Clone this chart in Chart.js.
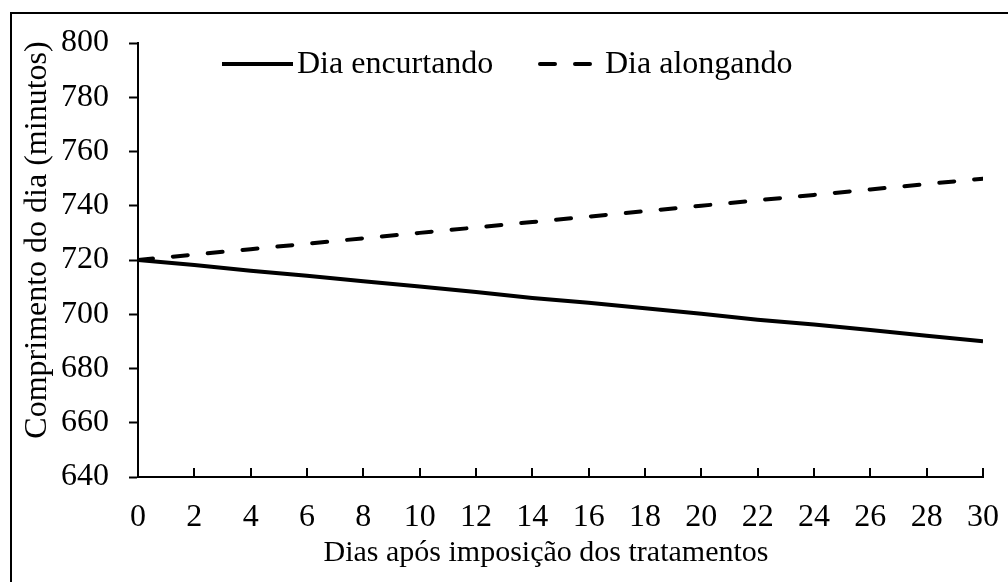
<!DOCTYPE html>
<html>
<head>
<meta charset="utf-8">
<script src="https://cdn.jsdelivr.net/npm/chart.js@4.4.1/dist/chart.umd.min.js"></script>
<style>
  html, body { margin: 0; padding: 0; background: #fff; }
  #wrap { position: relative; width: 1008px; height: 582px; }
</style>
</head>
<body>
<div id="wrap"><canvas id="grafico"></canvas></div>
<script>
// dados
var dias = [0, 2, 4, 6, 8, 10, 12, 14, 16, 18, 20, 22, 24, 26, 28, 30];
var diaEncurtando = [720, 718.2, 716, 714.2, 712.2, 710.2, 708.2, 706, 704.2, 702.2, 700.2, 698, 696.2, 694.2, 692.1, 690];
var diaAlongando = [720, 722, 724, 726, 728, 730, 732, 734, 736, 738, 740, 742, 744, 746, 748, 750];
var nomesSeries = ['Dia encurtando', 'Dia alongando'];
var tituloX = 'Dias após imposição dos tratamentos';
var tituloY = 'Comprimento do dia (minutos)';

var fonte = 'Liberation Serif, Times New Roman, serif';
var tam = 32;

function pontos(ys) {
  return dias.map(function (d, i) { return { x: d, y: ys[i] }; });
}

// moldura, ticks do eixo x para dentro, legenda e títulos
var extras = {
  id: 'extras',
  beforeDraw: function (chart) {
    var c = chart.ctx;
    c.save();
    c.strokeStyle = '#000';
    c.lineWidth = 2;
    c.strokeRect(11, 13, 1100, 700);
    c.restore();
  },
  afterDraw: function (chart) {
    var c = chart.ctx;
    var sx = chart.scales.x;
    var area = chart.chartArea;
    c.save();
    c.strokeStyle = '#000';
    c.lineWidth = 2;
    sx.ticks.forEach(function (t) {
      var px = Math.round(sx.getPixelForValue(t.value));
      c.beginPath();
      c.moveTo(px, area.bottom);
      c.lineTo(px, area.bottom - 9);
      c.stroke();
    });

    // legenda
    var leg = [[222, 293, 297], [540, 595, 605]];
    c.font = tam + 'px ' + fonte;
    c.textBaseline = 'middle';
    c.fillStyle = '#000';
    chart.data.datasets.forEach(function (ds, i) {
      var l = leg[i];
      c.beginPath();
      c.lineWidth = 4;
      c.lineCap = i === 0 ? 'butt' : 'round';
      c.setLineDash(ds.borderDash || []);
      c.moveTo(l[0], 64);
      c.lineTo(l[1], 64);
      c.stroke();
      c.setLineDash([]);
      c.fillText(ds.label, l[2], 65);
    });

    // títulos dos eixos
    c.textAlign = 'center';
    c.font = '30px ' + fonte;
    c.fillText(tituloX, 546, 553);
    c.font = tam + 'px ' + fonte;
    c.translate(38, 240);
    c.rotate(-Math.PI / 2);
    c.fillText(tituloY, 0, 0);
    c.restore();
  }
};

new Chart(document.getElementById('grafico'), {
  type: 'line',
  data: {
    datasets: [
      {
        label: nomesSeries[0],
        data: pontos(diaEncurtando),
        borderColor: '#000',
        borderWidth: 4,
        pointRadius: 0,
        tension: 0
      },
      {
        label: nomesSeries[1],
        data: pontos(diaAlongando),
        borderColor: '#000',
        borderWidth: 4,
        borderDash: [15, 20],
        borderCapStyle: 'round',
        pointRadius: 0,
        tension: 0
      }
    ]
  },
  options: {
    responsive: true,
    maintainAspectRatio: false,
    animation: false,
    layout: { padding: { left: 10, top: 43, right: 25, bottom: 0 } },
    plugins: {
      legend: { display: false },
      tooltip: { enabled: false }
    },
    scales: {
      x: {
        type: 'linear',
        min: 0,
        max: 30,
        afterFit: function (s) { s.height = 105; s.paddingLeft = 0; s.paddingRight = 0; },
        grid: { display: false, drawTicks: false },
        border: { display: true, color: '#000', width: 2 },
        ticks: {
          stepSize: 2,
          padding: 21,
          color: '#000',
          font: { family: fonte, size: tam },
          maxRotation: 0
        }
      },
      y: {
        min: 640,
        max: 800,
        afterFit: function (s) { s.width = 128; },
        grid: { drawOnChartArea: false, drawTicks: true, tickLength: 9, tickColor: '#000', tickWidth: 2 },
        border: { display: true, color: '#000', width: 2 },
        ticks: {
          stepSize: 20,
          padding: 20,
          color: '#000',
          font: { family: fonte, size: tam }
        }
      }
    }
  },
  plugins: [extras]
});
</script>
</body>
</html>
